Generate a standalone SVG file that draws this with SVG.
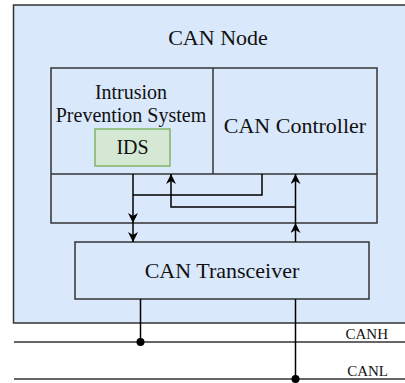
<svg xmlns="http://www.w3.org/2000/svg" width="405" height="383" viewBox="0 0 405 383">
  <style>
    .box { fill: #dae8fc; stroke: #333333; stroke-width: 1.5; }
    .ids { fill: #d5e8d4; stroke: #82b366; stroke-width: 1.5; }
    .wire { fill: none; stroke: #000000; stroke-width: 1.5; }
    .bus { fill: none; stroke: #333333; stroke-width: 1.5; }
    text { font-family: 'Liberation Serif', 'DejaVu Serif', serif; fill: #111111; text-anchor: middle; }
    .big { font-size: 22px; }
    .mid { font-size: 20px; }
    .small { font-size: 15px; text-anchor: end; }
  </style>
  <defs>
    <marker id="arrow" viewBox="0 0 10 10" refX="10" refY="5" markerWidth="10" markerHeight="10" markerUnits="userSpaceOnUse" orient="auto">
      <path d="M10,5 L0,0 L3,5 L0,10 Z" fill="#000000"/>
    </marker>
  </defs>

  <!-- enclosing CAN node -->
  <g id="can-node">
    <rect class="box" x="13.5" y="5" width="400" height="318"/>
    <text class="big" x="218" y="45" font-family="Liberation Serif, serif">CAN Node</text>
  </g>

  <!-- controller block with the IPS partition -->
  <g id="controller-block">
    <rect class="box" x="51" y="68" width="326" height="155"/>
    <line class="bus" x1="51" y1="174" x2="377" y2="174"/>
    <line class="bus" x1="213" y1="68" x2="213" y2="174"/>
  </g>

  <g id="ips">
    <text class="mid" x="131" y="99">Intrusion</text>
    <text class="mid" x="131" y="122">Prevention System</text>
  </g>

  <g id="ids">
    <rect class="ids" x="95" y="129" width="75" height="37"/>
    <text class="mid" x="132.5" y="154">IDS</text>
  </g>

  <g id="can-controller">
    <text class="big" x="295" y="133">CAN Controller</text>
  </g>

  <g id="can-transceiver">
    <rect class="box" x="75" y="242" width="294" height="57"/>
    <text class="big" x="222" y="278">CAN Transceiver</text>
  </g>

  <!-- bus lines -->
  <g id="canh">
    <line class="bus" x1="14" y1="342" x2="405" y2="342"/>
    <text class="small" x="388" y="339">CANH</text>
  </g>
  <g id="canl">
    <line class="bus" x1="14" y1="379" x2="405" y2="379"/>
    <text class="small" x="388" y="376">CANL</text>
  </g>

  <!-- connectors -->
  <g id="connectors">
    <!-- transmit path: IPS / controller down to the transceiver -->
    <path class="wire" d="M133,174 L133,223" marker-end="url(#arrow)"/>
    <path class="wire" d="M133,223 L133,242" marker-end="url(#arrow)"/>
    <path class="wire" d="M262,174 L262,195 L133,195"/>
    <!-- receive path: transceiver up to controller and IPS -->
    <path class="wire" d="M295.5,242 L295.5,223" marker-end="url(#arrow)"/>
    <path class="wire" d="M295.5,223 L295.5,174" marker-end="url(#arrow)"/>
    <path class="wire" d="M295.5,207 L171,207 L171,174" marker-end="url(#arrow)"/>
    <!-- transceiver to bus -->
    <path class="wire" d="M140.5,299 L140.5,342"/>
    <circle cx="140.5" cy="342" r="4" fill="#000000"/>
    <path class="wire" d="M295.5,299 L295.5,379"/>
    <circle cx="295.5" cy="379" r="4" fill="#000000"/>
  </g>
</svg>
